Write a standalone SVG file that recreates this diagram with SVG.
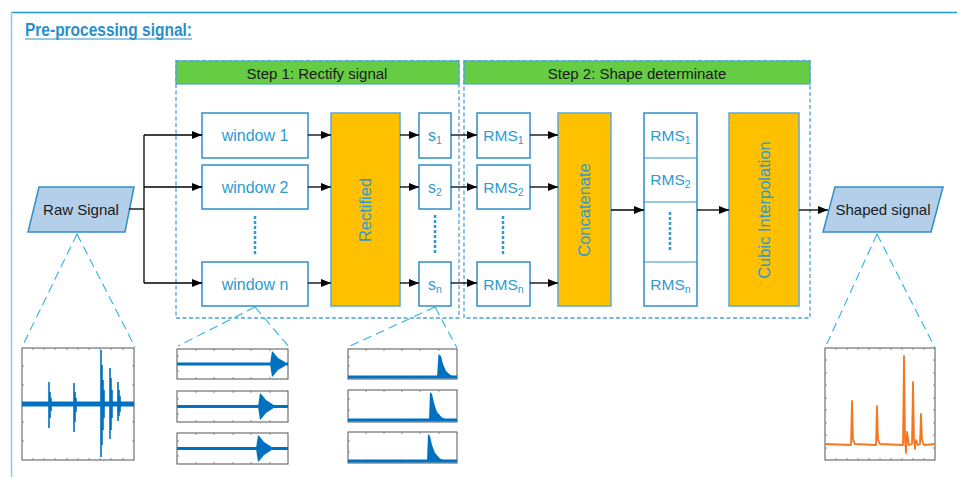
<svg xmlns="http://www.w3.org/2000/svg" width="957" height="478" viewBox="0 0 957 478">
<defs>
<marker id="arr" markerUnits="userSpaceOnUse" markerWidth="10" markerHeight="8" viewBox="0 0 10 8" refX="10" refY="4" orient="auto">
<path d="M0,0 L10,4 L0,8 Z" fill="#000"/>
</marker>
<style>
.box{fill:#fff;stroke:#2f8fc7;stroke-width:1.5}
.proc{fill:#ffc000;stroke:#5aa9d6;stroke-width:1.5}
.para{fill:#b4cfea;stroke:#2f8fc7;stroke-width:1.5}
.hdr{fill:#66cc44;stroke:#4aa3d8;stroke-width:1.2}
.step{fill:none;stroke:#4aa3d8;stroke-width:1.3;stroke-dasharray:4 2.5}
.t{font-family:"Liberation Sans",Arial,sans-serif;font-size:16px;fill:#2e9ad0;text-anchor:middle}
.r{font-size:15.5px}
.v{font-size:16.5px}
.tb{font-family:"Liberation Sans",Arial,sans-serif;font-size:15px;fill:#1a1a1a;text-anchor:middle}
.sub{font-size:10.5px}
.dots{stroke:#2e9ad0;stroke-width:2.5;stroke-dasharray:3 2;fill:none}
.conn{stroke:#000;stroke-width:1.3;fill:none}
.call{stroke:#29b3ee;stroke-width:1.1;stroke-dasharray:9 5;fill:none}
.frame{fill:#fff;stroke:#555;stroke-width:1}
.tick{stroke:#777;stroke-width:0.8;fill:none}
.wb{fill:#0070c0}
.ws{stroke:#0070c0;stroke-width:1.6;fill:none}
</style>
</defs>
<rect width="957" height="478" fill="#fff"/>
<line x1="11" y1="12.5" x2="957" y2="12.5" stroke="#1e9ad6" stroke-width="1.5"/>
<line x1="11.5" y1="12" x2="11.5" y2="477" stroke="#8ccbea" stroke-width="1.5"/>
<g id="title">
<text x="25" y="36" font-family="Liberation Sans,Arial,sans-serif" font-size="18" font-weight="bold" fill="#2a8fc9" textLength="167" lengthAdjust="spacingAndGlyphs">Pre-processing signal:</text>
<line x1="25" y1="39" x2="192" y2="39" stroke="#2a8fc9" stroke-width="1.2"/>
</g>
<g id="step1">
<rect class="step" x="176" y="61" width="283" height="257"/>
<rect class="hdr" x="176" y="61" width="283" height="23"/>
<text class="tb" x="317" y="78.5">Step 1: Rectify signal</text>
</g>
<g id="step2">
<rect class="step" x="464" y="61" width="346" height="257"/>
<rect class="hdr" x="464" y="61" width="346" height="23"/>
<text class="tb" x="637" y="78.5">Step 2: Shape determinate</text>
</g>
<g id="raw-signal">
<polygon class="para" points="39,187 134,187 125,232 28,232"/>
<text class="tb" x="81" y="215">Raw Signal</text>
</g>
<g id="window1"><rect class="box" x="202" y="113" width="106" height="45"/><text class="t" x="255" y="141">window 1</text></g>
<g id="window2"><rect class="box" x="202" y="165" width="106" height="44"/><text class="t" x="255" y="192.5">window 2</text></g>
<g id="window-dots"><line class="dots" x1="255" y1="216" x2="255" y2="255"/></g>
<g id="windown"><rect class="box" x="202" y="262" width="106" height="44"/><text class="t" x="255" y="289.5">window n</text></g>
<g id="rectified"><rect class="proc" x="331" y="113" width="69" height="193"/><text class="t v" transform="translate(371,210) rotate(-90)">Rectified</text></g>
<g id="s1"><rect class="box" x="419" y="113" width="32" height="45"/><text class="t" x="435" y="141">s<tspan class="sub" dy="3">1</tspan></text></g>
<g id="s2"><rect class="box" x="419" y="165" width="32" height="44"/><text class="t" x="435" y="192.5">s<tspan class="sub" dy="3">2</tspan></text></g>
<g id="s-dots"><line class="dots" x1="435" y1="215" x2="435" y2="254"/></g>
<g id="sn"><rect class="box" x="419" y="262" width="32" height="44"/><text class="t" x="435" y="289.5">s<tspan class="sub" dy="3">n</tspan></text></g>
<g id="rms1"><rect class="box" x="477" y="113" width="53" height="45"/><text class="t r" x="503.5" y="141">RMS<tspan class="sub" dy="3">1</tspan></text></g>
<g id="rms2"><rect class="box" x="477" y="165" width="53" height="44"/><text class="t r" x="503.5" y="192.5">RMS<tspan class="sub" dy="3">2</tspan></text></g>
<g id="rms-dots"><line class="dots" x1="503" y1="216" x2="503" y2="255"/></g>
<g id="rmsn"><rect class="box" x="477" y="262" width="53" height="44"/><text class="t r" x="503.5" y="289.5">RMS<tspan class="sub" dy="3">n</tspan></text></g>
<g id="concatenate"><rect class="proc" x="558" y="113" width="53" height="193"/><text class="t v" transform="translate(590,210) rotate(-90)">Concatenate</text></g>
<g id="rms-vector">
<rect class="box" x="644" y="113" width="53" height="193"/>
<line x1="644" y1="158" x2="697" y2="158" stroke="#2f8fc7" stroke-width="1.2"/>
<line x1="644" y1="202" x2="697" y2="202" stroke="#2f8fc7" stroke-width="1.2"/>
<line x1="644" y1="262" x2="697" y2="262" stroke="#2f8fc7" stroke-width="1.2"/>
<text class="t r" x="670.5" y="141">RMS<tspan class="sub" dy="3">1</tspan></text>
<text class="t r" x="670.5" y="185">RMS<tspan class="sub" dy="3">2</tspan></text>
<line class="dots" x1="670" y1="212" x2="670" y2="251"/>
<text class="t r" x="670.5" y="289.5">RMS<tspan class="sub" dy="3">n</tspan></text>
</g>
<g id="cubic"><rect class="proc" x="729" y="113" width="70" height="193"/><text class="t v" transform="translate(770,210) rotate(-90)">Cubic Interpolation</text></g>
<g id="shaped-signal">
<polygon class="para" points="835,187 943,187 931,232 823,232"/>
<text class="tb" x="883" y="215">Shaped signal</text>
</g>
<g id="connectors">
<path class="conn" d="M129,209 H144"/>
<path class="conn" d="M144,135 V283"/>
<path class="conn" d="M144,135 H202" marker-end="url(#arr)"/>
<path class="conn" d="M144,187 H202" marker-end="url(#arr)"/>
<path class="conn" d="M144,283 H202" marker-end="url(#arr)"/>
<path class="conn" d="M308,135 H331" marker-end="url(#arr)"/>
<path class="conn" d="M308,187 H331" marker-end="url(#arr)"/>
<path class="conn" d="M308,283 H331" marker-end="url(#arr)"/>
<path class="conn" d="M400,135 H419" marker-end="url(#arr)"/>
<path class="conn" d="M400,187 H419" marker-end="url(#arr)"/>
<path class="conn" d="M400,283 H419" marker-end="url(#arr)"/>
<path class="conn" d="M451,135 H477" marker-end="url(#arr)"/>
<path class="conn" d="M451,187 H477" marker-end="url(#arr)"/>
<path class="conn" d="M451,283 H477" marker-end="url(#arr)"/>
<path class="conn" d="M530,135 H558" marker-end="url(#arr)"/>
<path class="conn" d="M530,187 H558" marker-end="url(#arr)"/>
<path class="conn" d="M530,283 H558" marker-end="url(#arr)"/>
<path class="conn" d="M611,210 H644" marker-end="url(#arr)"/>
<path class="conn" d="M697,210 H729" marker-end="url(#arr)"/>
<path class="conn" d="M799,210 H828" marker-end="url(#arr)"/>
</g>
<g id="callouts">
<path class="call" d="M77,234 L22,347 M77,234 L135,347"/>
<path class="call" d="M255,307 L178,346 M255,307 L290,348"/>
<path class="call" d="M435,307 L348,347 M435,307 L457,348"/>
<path class="call" d="M877,234 L825,348 M877,234 L935,348"/>
</g>
<g id="plot-raw">
<rect class="frame" x="22" y="348" width="112" height="112"/>
<path class="tick" d="M33,348v2M44,348v2M55,348v2M67,348v2M78,348v2M89,348v2M100,348v2M111,348v2M123,348v2M33,460v-2M44,460v-2M55,460v-2M67,460v-2M78,460v-2M89,460v-2M100,460v-2M111,460v-2M123,460v-2M22,366h2M22,385h2M22,404h2M22,422h2M22,441h2M134,366h-2M134,385h-2M134,404h-2M134,422h-2M134,441h-2"/>
<rect class="wb" x="22" y="401.5" width="112" height="5"/>
<path class="ws" d="M49,382V428M50,392V418M51,398V411M74,383V432M75,392V422M76,398V412M101,350V457M102,365V445M103,380V430M104,390V418M110,368V439M111,378V430M112,390V418M118,382V421M119,390V416M120,396V412"/>
</g>
<g id="plot-windows">
<rect class="frame" x="177" y="349" width="111" height="30"/>
<path class="tick" d="M196,349v2M214,349v2M233,349v2M251,349v2M270,349v2M196,379v-2M214,379v-2M233,379v-2M251,379v-2M270,379v-2M177,356h2M177,364h2M177,371h2"/>
<rect class="wb" x="177" y="362.5" width="111" height="3"/>
<polygon class="wb" points="270,364 272,351 274,353 278,358 285,362 285,366 278,370 274,375 272,377"/>
<rect class="frame" x="177" y="391" width="111" height="31"/>
<path class="tick" d="M196,391v2M214,391v2M233,391v2M251,391v2M270,391v2M196,422v-2M214,422v-2M233,422v-2M251,422v-2M270,422v-2M177,399h2M177,406h2M177,414h2"/>
<rect class="wb" x="177" y="405" width="111" height="3"/>
<polygon class="wb" points="258,406.5 260,393 262,395 266,400 273,404.5 273,408.5 266,413 262,418 260,420"/>
<rect class="frame" x="177" y="433" width="111" height="31"/>
<path class="tick" d="M196,433v2M214,433v2M233,433v2M251,433v2M270,433v2M196,464v-2M214,464v-2M233,464v-2M251,464v-2M270,464v-2M177,441h2M177,448h2M177,456h2"/>
<rect class="wb" x="177" y="447" width="111" height="3"/>
<polygon class="wb" points="256,448.5 258,435 260,437 264,442 271,446.5 271,450.5 264,455 260,460 258,462"/>
</g>
<g id="plot-rectified">
<rect class="frame" x="348" y="349" width="109" height="30"/>
<path class="tick" d="M366,349v2M384,349v2M402,349v2M420,349v2M439,349v2M366,379v-2M384,379v-2M402,379v-2M420,379v-2M439,379v-2M348,357h2M348,366h2"/>
<rect class="wb" x="348" y="375.5" width="109" height="3"/>
<polygon class="wb" points="437,377 438.5,354 441,356 443,364 446,371 451,375.5 455,376.5"/>
<rect class="frame" x="348" y="390" width="109" height="32"/>
<path class="tick" d="M366,390v2M384,390v2M402,390v2M420,390v2M439,390v2M366,422v-2M384,422v-2M402,422v-2M420,422v-2M439,422v-2M348,399h2M348,410h2"/>
<rect class="wb" x="348" y="418.5" width="109" height="3"/>
<polygon class="wb" points="429,420 430,392 432,394 434,403 437,412 442,417.5 446,419.5"/>
<rect class="frame" x="348" y="432" width="109" height="31"/>
<path class="tick" d="M366,432v2M384,432v2M402,432v2M420,432v2M439,432v2M366,463v-2M384,463v-2M402,463v-2M420,463v-2M439,463v-2M348,441h2M348,452h2"/>
<rect class="wb" x="348" y="459.5" width="109" height="3"/>
<polygon class="wb" points="427,461 428,434 430,436 432,445 435,453 440,458.5 444,460.5"/>
</g>
<g id="plot-shaped">
<rect class="frame" x="825" y="348" width="110" height="112"/>
<path class="tick" d="M836,348v2M847,348v2M858,348v2M869,348v2M880,348v2M891,348v2M902,348v2M913,348v2M924,348v2M836,460v-2M847,460v-2M858,460v-2M869,460v-2M880,460v-2M891,460v-2M902,460v-2M913,460v-2M924,460v-2M825,360h2M825,373h2M825,385h2M825,398h2M825,410h2M825,423h2M825,435h2M825,448h2M935,360h-2M935,373h-2M935,385h-2M935,398h-2M935,410h-2M935,423h-2M935,435h-2M935,448h-2"/>
<path d="M825,444 L851,445 L852,401 L853,440 L855,444 L876,445 L877,406 L878,440 L880,444 L903,445 L904,356 L905,440 L906,453 L907,432 L909,445 L912,444 L913,382 L914,440 L915,449 L916,440 L918,445 L920,444 L921,414 L922,440 L924,445 L935,444" fill="none" stroke="#f5761f" stroke-width="1.8" stroke-linejoin="round"/>
</g>
</svg>
